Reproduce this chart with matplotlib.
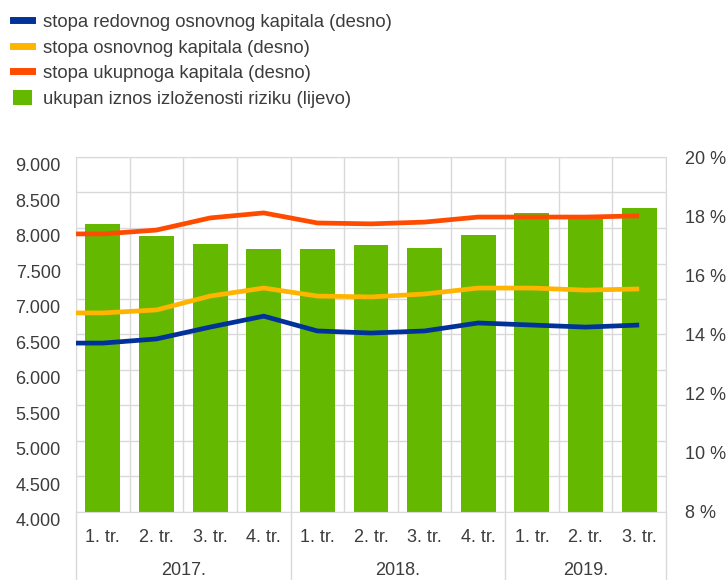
import matplotlib
matplotlib.use('Agg')
import matplotlib.pyplot as plt
import matplotlib.transforms as mtransforms
from matplotlib.patches import Patch
from matplotlib.lines import Line2D
import numpy as np

plt.rcParams['font.family'] = ['Liberation Sans', 'DejaVu Sans']

quarters = ['1. tr.', '2. tr.', '3. tr.', '4. tr.', '1. tr.', '2. tr.', '3. tr.', '4. tr.',
            '1. tr.', '2. tr.', '3. tr.']
years = ['2017.', '2018.', '2019.']
year_sizes = [4, 4, 3]
exposure = [8060, 7890, 7775, 7705, 7705, 7760, 7720, 7900, 8210, 8155, 8280]
cet1 = [13.71, 13.85, 14.25, 14.62, 14.12, 14.05, 14.12, 14.39, 14.32, 14.25, 14.32]
tier1 = [14.73, 14.83, 15.30, 15.57, 15.30, 15.27, 15.37, 15.57, 15.57, 15.50, 15.54]
total = [17.40, 17.53, 17.94, 18.11, 17.77, 17.74, 17.80, 17.97, 17.97, 17.97, 18.01]
left_ticks = [4000, 4500, 5000, 5500, 6000, 6500, 7000, 7500, 8000, 8500, 9000]
left_labels = ['4.000', '4.500', '5.000', '5.500', '6.000', '6.500', '7.000', '7.500',
               '8.000', '8.500', '9.000']
right_ticks = [8, 10, 12, 14, 16, 18, 20]
right_labels = ['8 %', '10 %', '12 %', '14 %', '16 %', '18 %', '20 %']
legend_labels = ['stopa redovnog osnovnog kapitala (desno)',
                 'stopa osnovnog kapitala (desno)',
                 'stopa ukupnoga kapitala (desno)',
                 'ukupan iznos izloženosti riziku (lijevo)']

c_green = '#64b800'
c_blue = '#003299'
c_orange = '#ffb400'
c_red = '#ff4b00'
c_grid = '#d9d9d9'
c_text = '#3c3c3c'
fs = 13
fs_leg = 13.3

W, H = 728, 580
fig = plt.figure(figsize=(W / 100, H / 100), dpi=100)
L, R, B, T = 76, 666, 512, 157
ax = fig.add_axes([L / W, 1 - B / H, (R - L) / W, (B - T) / H])
n = len(quarters)
x = np.arange(n)

ax.bar(x, exposure, width=0.65, color=c_green, zorder=2)
ax.set_xlim(-0.5, n - 0.5)
ax.set_ylim(4000, 9000)
ax.set_yticks(left_ticks)
ax.set_yticklabels(left_labels, fontsize=fs, color=c_text)
ax.tick_params(axis='y', length=0, pad=11)
off = mtransforms.ScaledTranslation(0, -8 / 100, fig.dpi_scale_trans)
for lab in ax.get_yticklabels():
    lab.set_transform(lab.get_transform() + off)

ax.set_xticks(x)
ax.set_xticklabels(quarters, fontsize=fs, color=c_text)
ax.tick_params(axis='x', length=0, pad=12)
ax.set_xticks(np.arange(-0.5, n, 1), minor=True)
ax.tick_params(axis='x', which='minor', length=0)
ax.grid(True, axis='y', color=c_grid, lw=1, zorder=0)
ax.grid(True, axis='x', which='minor', color=c_grid, lw=1, zorder=0)
ax.grid(False, axis='x', which='major')
for s in ax.spines.values():
    s.set_color(c_grid)

ax2 = ax.twinx()
# lines run from the left plot edge (first value held) to the last quarter
xl = np.concatenate([[-0.5], x])
for series, col in [(cet1, c_blue), (tier1, c_orange), (total, c_red)]:
    ax2.plot(xl, [series[0]] + list(series), color=col, lw=3.4,
             solid_capstyle='butt', solid_joinstyle='round', zorder=3)
ax2.set_xlim(-0.5, n - 0.5)
ax2.set_ylim(8, 20)
ax2.set_yticks(right_ticks)
ax2.set_yticklabels(right_labels, fontsize=fs, color=c_text)
ax2.tick_params(axis='y', length=0, pad=14)
for s in ax2.spines.values():
    s.set_visible(False)

# year group labels and separators
trans = mtransforms.blended_transform_factory(ax.transData, ax.transAxes)
start = 0
bounds = [-0.5]
for yr, sz in zip(years, year_sizes):
    mid = start + (sz - 1) / 2
    ax.text(mid, -0.165, yr, transform=trans, ha='center', va='center',
            fontsize=fs, color=c_text)
    start += sz
    bounds.append(start - 0.5)
for b in bounds:
    ax.plot([b, b], [0, -0.2], transform=trans, color=c_grid, lw=1, clip_on=False)

handles = [Line2D([], [], color=c_blue, lw=5),
           Line2D([], [], color=c_orange, lw=5),
           Line2D([], [], color=c_red, lw=5),
           Patch(facecolor=c_green, edgecolor='none')]
leg = fig.legend(handles, legend_labels, loc='upper left',
                 bbox_to_anchor=(6 / W, 1 - 6 / H), frameon=False, fontsize=fs_leg,
                 handlelength=1.0, handleheight=0.85, handletextpad=0.6,
                 labelspacing=0.42, borderaxespad=0)
for t in leg.get_texts():
    t.set_color(c_text)

fig.savefig('out.png', dpi=100)
